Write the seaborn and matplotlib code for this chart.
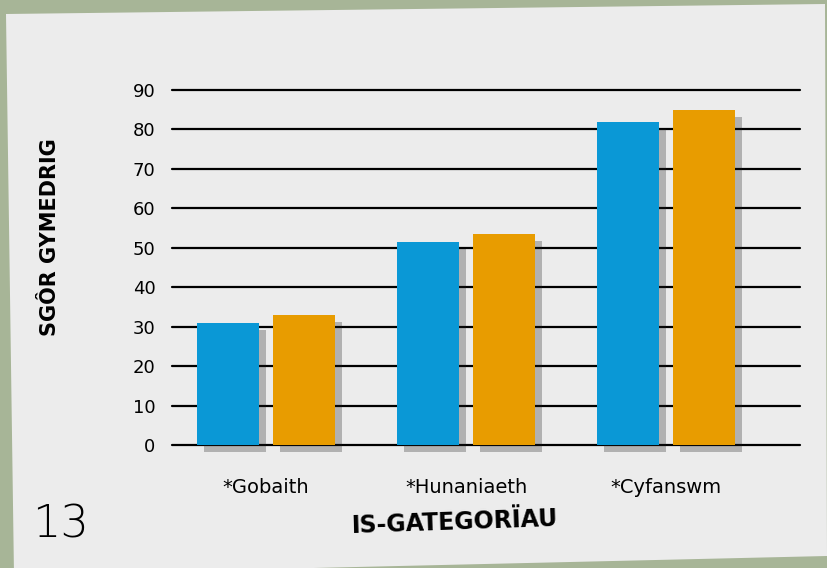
"""Mean score per sub-category, two groups, on a paper-style background."""
import matplotlib

matplotlib.use("Agg")
import matplotlib.pyplot as plt
import matplotlib.patheffects as pe
from matplotlib.patches import Polygon
import pandas as pd
import seaborn as sns

categories = ["*Gobaith", "*Hunaniaeth", "*Cyfanswm"]
group_a = [31, 51.5, 82]
group_b = [33, 53.5, 85]
yticks = [0, 10, 20, 30, 40, 50, 60, 70, 80, 90]

BLUE = "#0a98d6"
ORANGE = "#e89c00"

sns.set_theme(style="white")
plt.rcParams["font.family"] = ["DejaVu Sans"]
plt.rcParams["text.color"] = "black"
plt.rcParams["xtick.color"] = "black"
plt.rcParams["ytick.color"] = "black"

df = pd.DataFrame({
    "cat": categories * 2,
    "score": group_a + group_b,
    "grp": ["a"] * len(categories) + ["b"] * len(categories),
})

W, H = 827, 568
fig = plt.figure(figsize=(W / 100, H / 100), dpi=100)
fig.patch.set_facecolor("#a7b597")

# paper sheet, slightly skewed
paper = Polygon(
    [(6 / W, 1 - 14 / H), (825 / W, 1 - 4 / H), (827 / W, 1 - 556 / H), (14 / W, 1 - 575 / H)],
    closed=True, transform=fig.transFigure, facecolor="#ececec", edgecolor="none", zorder=-5,
)
fig.patches.append(paper)

ax = fig.add_axes([172 / W, 1 - 445 / H, (800 - 172) / W, (445 - 90) / H])
ax.set_zorder(2)
ax.set_facecolor("none")

sns.barplot(
    data=df, x="cat", y="score", hue="grp", palette=[BLUE, ORANGE],
    width=0.76, gap=0.18, legend=False, ax=ax, saturation=1, linewidth=0,
)
for bar in ax.patches:
    bar.set_path_effects([
        pe.SimplePatchShadow(offset=(5, -5), shadow_rgbFace="k", alpha=0.28),
        pe.Normal(),
    ])
    bar.set_zorder(3)
    bar.set_clip_on(False)

ax.set_ylim(0, 90)
ax.set_xlim(-0.47, 2.67)
ax.set_yticks(yticks)
ax.yaxis.grid(True, color="black", linewidth=1.6)
for gl in ax.get_ygridlines():
    gl.set_clip_on(False)
ax.set_axisbelow(True)
for s in ax.spines.values():
    s.set_visible(False)
ax.tick_params(axis="y", length=0, pad=12, labelsize=13)
ax.tick_params(axis="x", length=0, pad=24, labelsize=14)
ax.set_xlabel("")
ax.set_ylabel("")

fig.text(50 / W, 1 - 237 / H, "SGÔR GYMEDRIG", rotation=90, ha="center", va="center",
         fontsize=15, fontweight="bold")
fig.text(455 / W, 1 - 522 / H, "IS-GATEGORÏAU", ha="center", va="center",
         fontsize=17, fontweight="bold", rotation=2)
fig.text(60 / W, 1 - 525 / H, "13", ha="center", va="center", fontsize=32,
         fontweight="light")

fig.savefig("out.png", dpi=100, facecolor=fig.get_facecolor())
